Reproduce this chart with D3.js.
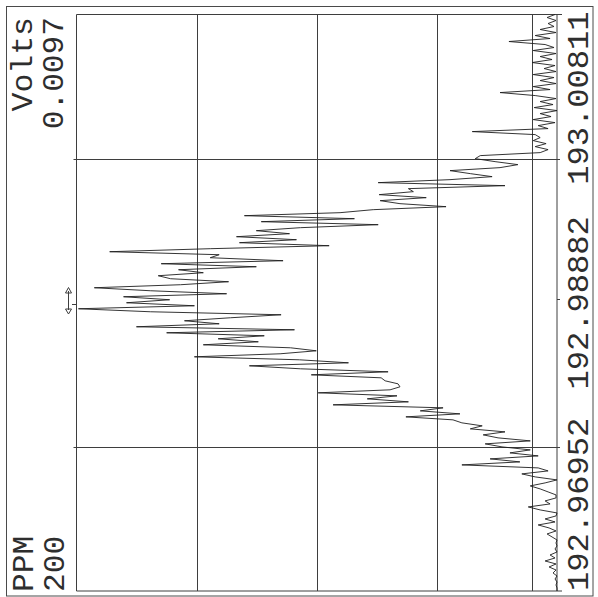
<!DOCTYPE html>
<html><head><meta charset="utf-8">
<script src="https://cdn.jsdelivr.net/npm/d3@7"></script>
<style>html,body{margin:0;padding:0;background:#fff;} svg{display:block;}</style>
</head><body>
<svg id="chart" width="598" height="597"></svg>
<script>
// ---- data ----
const ppmLabels = ["192.96952", "192.98882", "193.00811"];
const ppmMin = 192.96952, ppmMax = 193.00811;
const ppmGrid = [192.97917, 192.99846];
const voltsFullScaleMv = 9.7;
const voltsLabel = "0.0097";
const unitTop = "Volts";
const unitBottom = "PPM";
const bottomValue = "200";
const intensityGridMv = [2.425, 4.85, 7.275];
const thresholdMv = 0.5;
// signal intensity (mV), from low ppm (bottom) to high ppm (top)
const intensityMv = [
 0.00,0.00,0.02,0.00,0.04,0.00,0.08,0.02,0.16,0.02,
 0.24,0.04,0.14,0.00,0.04,0.00,0.02,0.00,0.10,0.20,
 0.02,0.16,0.38,0.04,0.24,0.02,0.00,0.34,0.58,0.14,
 0.24,0.02,0.02,0.18,0.34,0.54,0.24,0.00,0.44,0.71,
 0.18,0.38,1.92,0.75,1.35,0.38,0.95,0.54,1.11,1.45,
 0.54,1.19,1.49,1.05,1.75,1.51,1.92,2.10,3.05,1.96,
 2.76,2.30,4.52,3.00,3.83,3.23,4.82,3.37,3.17,3.21,
 3.47,3.55,4.96,3.41,5.18,6.21,4.21,5.20,7.32,5.59,
 4.86,5.38,7.14,6.03,6.84,5.91,7.88,5.30,8.49,6.82,
 7.52,6.59,5.57,8.21,9.66,7.32,8.69,7.82,8.75,6.67,
 8.21,9.34,7.60,6.63,7.80,8.05,7.14,7.64,6.07,7.99,
 5.53,7.00,6.82,9.03,7.00,4.60,6.41,5.26,6.47,5.40,
 6.07,5.18,3.61,5.97,4.09,6.31,4.38,3.71,2.24,3.17,
 3.57,2.64,3.59,2.90,3.00,1.05,3.61,2.16,1.31,1.75,
 2.16,1.15,0.79,1.25,1.65,1.55,0.34,0.18,0.44,0.22,
 0.48,0.34,0.44,1.71,0.18,0.38,0.04,0.48,0.12,0.34,
 0.00,0.46,0.08,0.34,0.02,0.44,1.15,0.14,0.48,0.02,
 0.34,0.06,0.48,0.02,0.26,0.04,0.50,0.10,0.34,0.02,
 0.48,0.06,0.24,0.97,0.14,0.44,0.02,0.34,0.06,0.18,
 0.02,0.20,0.04
];

// ---- layout ----
const plot = {left: 76.5, right: 557, top: 14.5, bottom: 591};
const svg = d3.select("#chart");
const ink = "#2e2e2e";
const font = "'Liberation Mono', 'DejaVu Sans Mono', monospace";

const x = d3.scaleLinear().domain([0, voltsFullScaleMv]).range([plot.right, plot.left]);
const y = d3.scaleLinear().domain([ppmMin, ppmMax]).range([plot.bottom, plot.top]);
const samplePpm = d3.scaleLinear().domain([0, intensityMv.length - 1]).range([ppmMin, ppmMax]);

// outer frame
svg.append("rect").attr("x", 6.5).attr("y", 6.5).attr("width", 586.5).attr("height", 589.5)
  .attr("fill", "none").attr("stroke", "#4a4a4a").attr("stroke-width", 1);

const g = svg.append("g").attr("stroke", "#3e3e3e").attr("stroke-width", 1).attr("fill", "none");

// plot frame lines
g.append("line").attr("x1", x(voltsFullScaleMv)).attr("x2", x(voltsFullScaleMv)).attr("y1", plot.top).attr("y2", plot.bottom);
g.append("line").attr("x1", x(0)).attr("x2", x(0)).attr("y1", plot.top).attr("y2", plot.bottom);
g.append("line").attr("x1", plot.left).attr("x2", plot.right + 5).attr("y1", y(ppmMax)).attr("y2", y(ppmMax));
g.append("line").attr("x1", plot.left).attr("x2", plot.right + 5).attr("y1", y(ppmMin)).attr("y2", y(ppmMin));

// vertical grid (intensity)
g.selectAll("line.vg").data(intensityGridMv).enter().append("line").attr("class", "vg")
  .attr("x1", d => Math.round(x(d)) + 0.5).attr("x2", d => Math.round(x(d)) + 0.5)
  .attr("y1", plot.top).attr("y2", plot.bottom);
// threshold line
g.append("line").attr("x1", Math.round(x(thresholdMv)) + 0.5).attr("x2", Math.round(x(thresholdMv)) + 0.5)
  .attr("y1", plot.top).attr("y2", plot.bottom);
// horizontal grid (ppm)
g.selectAll("line.hg").data(ppmGrid).enter().append("line").attr("class", "hg")
  .attr("x1", plot.left - 3).attr("x2", plot.right + 3)
  .attr("y1", d => Math.round(y(d)) + 0.5).attr("y2", d => Math.round(y(d)) + 0.5);

// small marks
g.append("line").attr("x1", 72).attr("x2", plot.left).attr("y1", 304.5).attr("y2", 304.5);
g.append("line").attr("x1", plot.right).attr("x2", plot.right + 3).attr("y1", 299.5).attr("y2", 299.5);
g.append("line").attr("x1", 68.5).attr("x2", 68.5).attr("y1", 291).attr("y2", 310);
g.append("path").attr("d", "M65.5,293 L68.5,287.5 L71.5,293 Z");
g.append("path").attr("d", "M65.5,309 L68.5,314 L71.5,309 Z");

// trace
const line = d3.line()
  .x(d => x(d))
  .y((d, i) => y(samplePpm(i)));
svg.append("path").datum(intensityMv).attr("d", line)
  .attr("fill", "none").attr("stroke", "#1e1e1e").attr("stroke-width", 0.9)
  .attr("stroke-linejoin", "miter").attr("stroke-miterlimit", 2);

// text (rotated, reading bottom-to-top)
function vtext(tx, ty, anchor, str, size, stretch) {
  svg.append("text").attr("transform", `translate(${tx},${ty}) rotate(-90) scale(${stretch},1)`)
    .attr("text-anchor", anchor).attr("font-family", font).attr("font-size", size)
    .attr("fill", ink).text(str);
}
vtext(32, 17, "end", unitTop, 30, 1.05);
vtext(63, 17, "end", voltsLabel, 30, 1.04);
vtext(33, 592, "start", unitBottom, 30, 1.04);
vtext(64, 592, "start", bottomValue, 30, 1.04);
vtext(588, y(ppmMin), "start", ppmLabels[0], 30, 1.07);
vtext(588, y((ppmMin + ppmMax) / 2), "middle", ppmLabels[1], 30, 1.07);
vtext(588, y(ppmMax) - 3, "end", ppmLabels[2], 30, 1.07);
</script>
</body></html>
